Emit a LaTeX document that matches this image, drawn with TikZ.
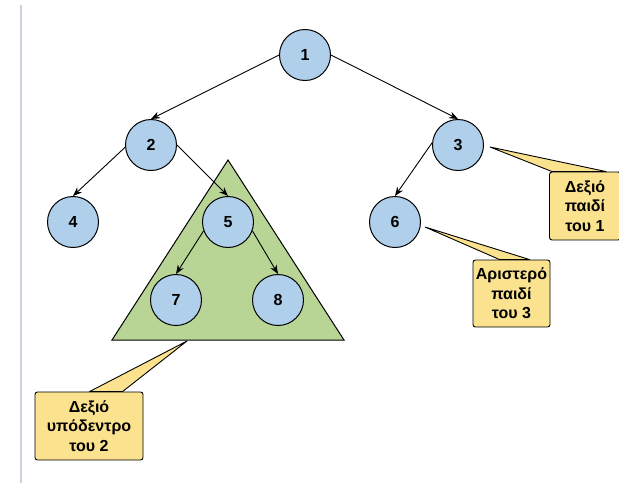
\documentclass[tikz,border=0pt]{standalone}
\usepackage{fontspec}
\setmainfont{Liberation Sans}
\usetikzlibrary{arrows.meta,backgrounds}

\definecolor{nodeblue}{RGB}{176,207,234}
\definecolor{treegreen}{RGB}{184,213,150}
\definecolor{noteyellow}{RGB}{250,226,142}
\definecolor{edgegrey}{RGB}{205,209,220}

\tikzset{
  vertex/.style={circle, draw, line width=1pt, fill=nodeblue, minimum size=51pt,
    inner sep=0pt, font=\bfseries\fontsize{16}{18}\selectfont},
  edge/.style={-{Stealth[length=9pt,width=7pt]}, line width=0.9pt},
  subtree/.style={draw, fill=treegreen, line width=1pt, line join=miter},
  notebox/.style={draw, fill=noteyellow, rounded corners=2.5pt, line width=0.9pt,
    align=center, inner sep=0pt, font=\bfseries\fontsize{16}{19.5}\selectfont},
  pointer/.style={draw, fill=noteyellow, line width=0.9pt, line join=round}
}

\begin{document}
\begin{tikzpicture}[x=1pt,y=-1pt]
\useasboundingbox (0,0) rectangle (619,483);

%% page edge
\draw[edgegrey, line width=1.2pt] (21,5) -- (21,483);

%% subtree of 2
\draw[subtree] (228,160) -- (112,340) -- (344,340) -- cycle;

%% vertices
\node[vertex] (n1) at (305,55)  {1};
\node[vertex] (n2) at (151,145) {2};
\node[vertex] (n3) at (458,145) {3};
\node[vertex] (n4) at (73,222)  {4};
\node[vertex] (n5) at (228,222) {5};
\node[vertex] (n6) at (395,222) {6};
\node[vertex] (n7) at (176,300) {7};
\node[vertex] (n8) at (278,300) {8};

%% edges
\draw[edge] (n1.west) -- (n2.north);     %% 12
\draw[edge] (n1.east) -- (n3.north);     %% 13
\draw[edge] (n2.185) -- (n4.north);      %% 24
\draw[edge] (n2.east) -- (n5.north);     %% 25
\draw[edge] (n3.175) -- (n6.north);      %% 36
\draw[edge] (n5.200) -- (n7.north);      %% 57
\draw[edge] (n5.-20) -- (n8.north);      %% 58

%% callouts
\node[notebox, minimum width=71pt, minimum height=68pt] (note1) at (585,206)
  {Δεξιό\\παιδί\\του 1};
\node[notebox, minimum width=77pt, minimum height=67pt] (note3) at (511.5,293.5)
  {Αριστερό\\παιδί\\του 3};
\node[notebox, minimum width=108pt, minimum height=68pt] (note2) at (89,426)
  {Δεξιό\\υπόδεντρο\\του 2};
\coordinate (tip1) at (490,147);
\coordinate (tip3) at (425,227);
\coordinate (tip2) at (187,341);
\begin{pgfonlayer}{background}
\filldraw[pointer] (tip1) -- ([xshift=3pt]note1.north west) -- ([xshift=57pt]note1.north west) -- cycle;
\filldraw[pointer] (tip3) -- ([xshift=27pt]note3.north west) -- ([xshift=57pt]note3.north west) -- cycle;
\filldraw[pointer] (tip2) -- ([xshift=55pt]note2.north west) -- ([xshift=88pt]note2.north west) -- cycle;
\end{pgfonlayer}
\end{tikzpicture}
\end{document}
